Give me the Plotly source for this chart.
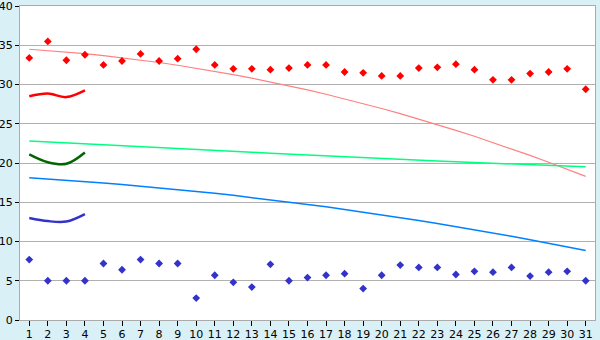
import plotly.graph_objects as go

days = list(range(1, 32))

red_points = [33.4, 35.5, 33.1, 33.8, 32.5, 33.0, 33.9, 33.0, 33.3, 34.5,
              32.5, 32.0, 32.0, 31.9, 32.1, 32.5, 32.5, 31.6, 31.5, 31.1,
              31.1, 32.1, 32.2, 32.6, 31.9, 30.6, 30.6, 31.4, 31.6, 32.0, 29.4]

blue_points = [7.7, 5.0, 5.0, 5.0, 7.2, 6.4, 7.7, 7.2, 7.2, 2.8,
               5.7, 4.8, 4.2, 7.1, 5.0, 5.4, 5.7, 5.9, 4.0, 5.7,
               7.0, 6.7, 6.7, 5.8, 6.2, 6.1, 6.7, 5.6, 6.1, 6.2, 5.0]

short_days = [1, 2, 3, 4]
red_line = [28.5, 28.85, 28.4, 29.25]
green_line = [21.1, 20.1, 19.9, 21.35]
blue_line = [13.0, 12.6, 12.55, 13.5]

red_trend = [34.50, 34.34, 34.15, 33.93, 33.69, 33.42, 33.13, 32.81, 32.46, 32.09,
             31.70, 31.27, 30.82, 30.35, 29.85, 29.32, 28.77, 28.19, 27.58, 26.95,
             26.30, 25.61, 24.90, 24.17, 23.41, 22.62, 21.81, 20.97, 20.10, 19.21, 18.30]

green_trend = [22.80, 22.69, 22.57, 22.46, 22.34, 22.22, 22.10, 21.98, 21.86, 21.74,
               21.62, 21.50, 21.38, 21.26, 21.14, 21.02, 20.90, 20.79, 20.68, 20.57,
               20.46, 20.36, 20.26, 20.16, 20.06, 19.97, 19.88, 19.79, 19.70, 19.61, 19.52]

blue_trend = [18.14, 17.99, 17.83, 17.66, 17.47, 17.28, 17.07, 16.86, 16.63, 16.39,
              16.14, 15.88, 15.61, 15.33, 15.04, 14.73, 14.42, 14.09, 13.76, 13.41,
              13.05, 12.68, 12.30, 11.91, 11.51, 11.09, 10.67, 10.23, 9.79, 9.33, 8.86]

y_ticks = [0, 5, 10, 15, 20, 25, 30, 35, 40]

fig = go.Figure()

fig.add_trace(go.Scatter(x=days, y=red_trend, mode="lines",
                         line=dict(color="#ff8080", width=1.2)))
fig.add_trace(go.Scatter(x=days, y=green_trend, mode="lines",
                         line=dict(color="#00ff80", width=1.5)))
fig.add_trace(go.Scatter(x=days, y=blue_trend, mode="lines",
                         line=dict(color="#0080ff", width=1.5)))

fig.add_trace(go.Scatter(x=short_days, y=red_line, mode="lines",
                         line=dict(color="#ff0000", width=2.5, shape="spline")))
fig.add_trace(go.Scatter(x=short_days, y=green_line, mode="lines",
                         line=dict(color="#006600", width=2.5, shape="spline")))
fig.add_trace(go.Scatter(x=short_days, y=blue_line, mode="lines",
                         line=dict(color="#3333cc", width=2.5, shape="spline")))

fig.add_trace(go.Scatter(x=days, y=red_points, mode="markers",
                         marker=dict(symbol="diamond", size=6, color="#ff0000")))
fig.add_trace(go.Scatter(x=days, y=blue_points, mode="markers",
                         marker=dict(symbol="diamond", size=6, color="#3333cc")))

fig.update_layout(
    width=600, height=340,
    margin=dict(l=20, r=5, t=6, b=20, autoexpand=False),
    paper_bgcolor="#d9f0f7",
    plot_bgcolor="#ffffff",
    showlegend=False,
    font=dict(family="DejaVu Sans", size=11, color="#000000"),
)

fig.update_xaxes(
    range=[0.5, 31.5], tickvals=days, ticktext=[str(d) for d in days],
    showgrid=False, zeroline=False, automargin=False,
    showline=True, linecolor="#aaaaaa", linewidth=1, mirror=True,
    ticks="outside", ticklen=5, tickcolor="#000000", tickwidth=1,
    tickfont=dict(size=11), ticklabeloverflow="allow", ticklabelstandoff=-1,
)
fig.update_yaxes(
    range=[0, 40.01], tickvals=y_ticks, ticktext=[str(v) for v in y_ticks],
    showgrid=True, gridcolor="#b0b0b0", gridwidth=1, zeroline=False, automargin=False,
    showline=True, linecolor="#aaaaaa", linewidth=1, mirror=True,
    ticks="outside", ticklen=4, tickcolor="#000000", tickwidth=1,
    tickfont=dict(size=11), ticklabeloverflow="allow",
)

fig.write_html("out.html")
